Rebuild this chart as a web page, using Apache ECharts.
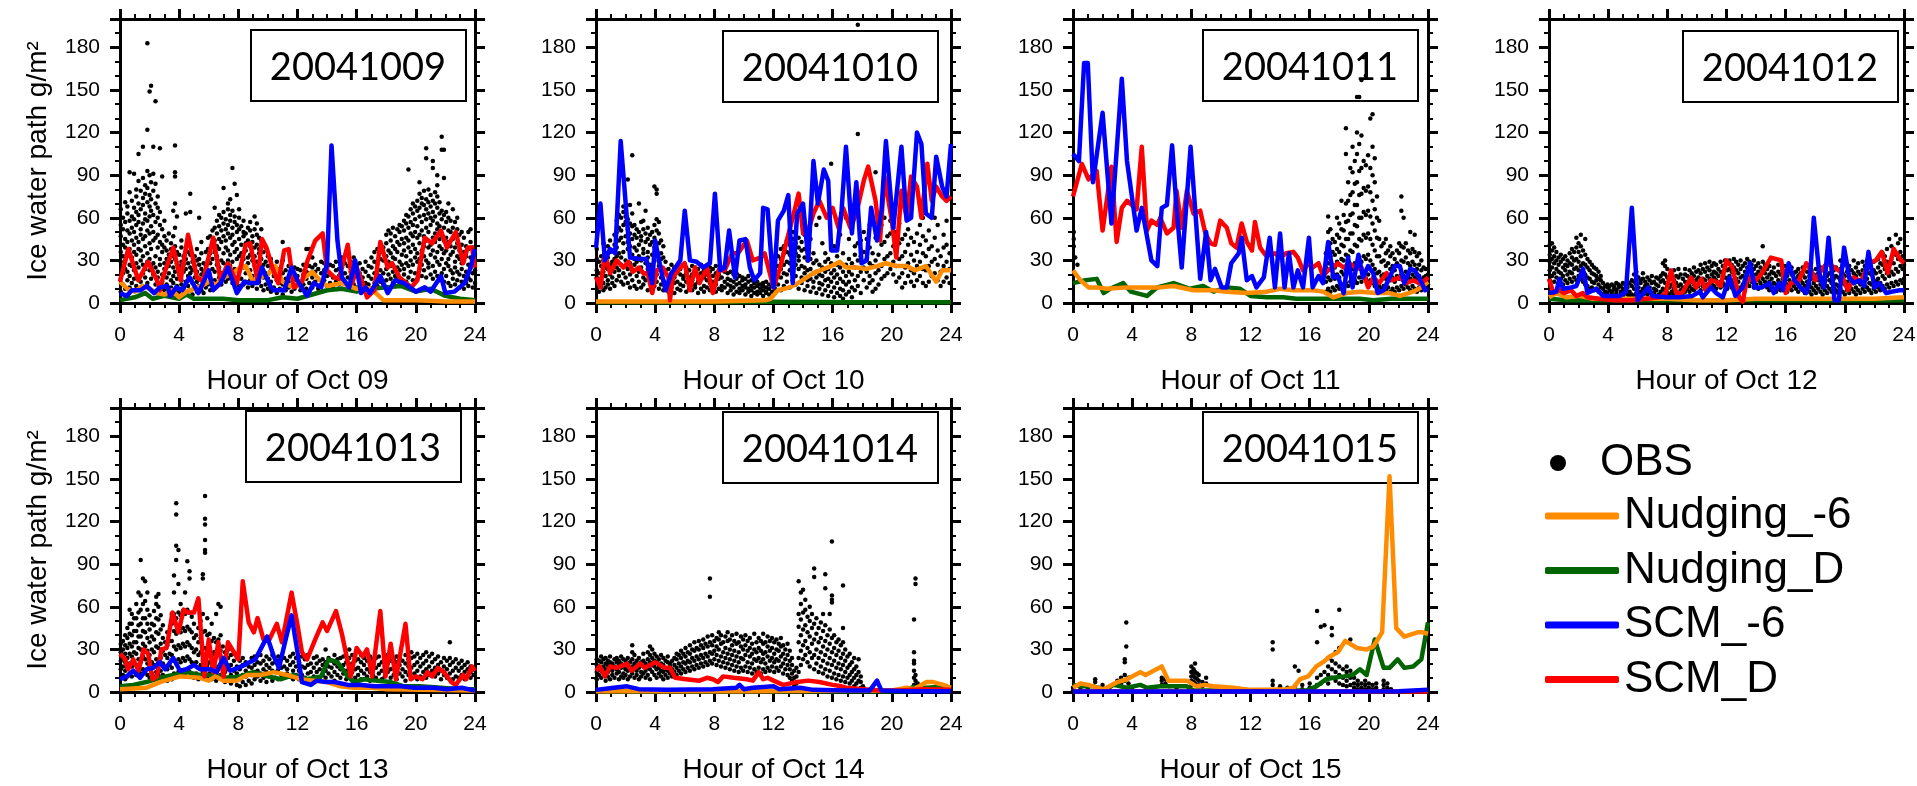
<!DOCTYPE html>
<html>
<head>
<meta charset="utf-8">
<title>Ice water path</title>
<script src="https://cdn.jsdelivr.net/npm/echarts@6/dist/echarts.min.js"></script>
<style>
  html, body { margin: 0; padding: 0; background: #fff; }
  #main { width: 1917px; height: 786px; }
</style>
</head>
<body>
<div id="main"></div>
<script>
// ---- data ----
const days = ['20041009', '20041010', '20041011', '20041012', '20041013', '20041014', '20041015'];
const hourNames = ['Hour of Oct 09', 'Hour of Oct 10', 'Hour of Oct 11', 'Hour of Oct 12',
  'Hour of Oct 13', 'Hour of Oct 14', 'Hour of Oct 15'];
const lineNames = ['Nudging_-6', 'Nudging_D', 'SCM_-6', 'SCM_D'];
const yTitle = 'Ice water path g/m²';

// OBS rows: [hour, value, value, ...]
const obs09 = [
  [0.05, 8, 17, 29, 36, 47, 55, 66], [0.2, 13, 21, 33, 41, 52, 60], [0.35, 10, 24, 30, 39, 45, 57, 71],
  [0.5, 16, 22, 35, 43, 51, 63, 68], [0.65, 11, 19, 27, 38, 49, 58, 78, 92], [0.8, 14, 26, 32, 44, 53, 61, 72],
  [0.95, 17, 23, 36, 41, 50, 59, 67, 91], [1.1, 12, 28, 34, 46, 55, 64, 75, 80],
  [1.25, 19, 25, 38, 43, 57, 62, 70, 86, 105], [1.4, 15, 30, 37, 48, 52, 66, 79],
  [1.55, 21, 27, 33, 45, 56, 69, 74, 88, 110], [1.7, 18, 24, 40, 47, 59, 63, 77, 83],
  [1.85, 14, 29, 35, 51, 58, 71, 81, 93, 122, 183], [2.0, 23, 31, 42, 49, 61, 68, 76, 90, 149],
  [2.1, 17, 26, 38, 54, 65, 73, 85, 153], [2.25, 20, 28, 44, 50, 62, 79, 91, 110],
  [2.4, 13, 25, 33, 46, 57, 70, 84, 142], [2.55, 18, 22, 39, 48, 60, 67, 75], [2.7, 11, 27, 31, 43, 55, 64, 109],
  [2.85, 15, 20, 36, 41, 52, 89], [3.0, 9, 24, 28, 39, 47, 58], [3.15, 13, 18, 31, 37, 44], [3.3, 7, 21, 26, 34, 49],
  [3.45, 11, 16, 29, 38, 42], [3.6, 14, 19, 25, 33, 47, 65], [3.72, 9, 22, 31, 40, 53, 70, 89, 92, 111],
  [3.85, 12, 17, 28, 36, 61], [4.0, 8, 20, 26, 34], [4.15, 13, 16, 29, 39, 44], [4.3, 10, 22, 27, 33],
  [4.45, 7, 15, 24, 31, 63], [4.6, 12, 19, 28, 36, 41], [4.75, 9, 21, 25, 34, 64, 77], [4.9, 6, 14, 23, 29],
  [5.05, 11, 18, 26, 33], [5.2, 8, 15, 22, 30, 38], [5.35, 12, 17, 27, 31, 60], [5.5, 9, 20, 24, 35, 43],
  [5.65, 7, 14, 22, 28], [5.8, 11, 19, 26, 36], [5.95, 13, 21, 30, 38, 46], [6.1, 9, 17, 28, 35, 47],
  [6.25, 14, 24, 31, 42, 51], [6.4, 16, 22, 36, 44, 53, 67], [6.55, 12, 27, 33, 40, 49, 58],
  [6.7, 18, 25, 38, 45, 54, 62], [6.85, 13, 21, 30, 43, 51, 60], [7.0, 19, 28, 35, 47, 56, 64, 81],
  [7.15, 15, 23, 39, 44, 52, 59], [7.3, 17, 30, 37, 49, 55, 66, 70], [7.45, 20, 26, 34, 46, 58, 62, 73],
  [7.6, 14, 29, 41, 48, 53, 65, 95], [7.75, 18, 24, 36, 43, 57, 61, 84], [7.9, 16, 31, 38, 50, 55, 76],
  [8.05, 12, 22, 33, 45, 52, 60, 66], [8.2, 17, 27, 35, 41, 54], [8.35, 13, 25, 31, 47, 50, 58],
  [8.5, 15, 21, 37, 42, 49], [8.65, 11, 28, 32, 44, 53], [8.8, 16, 23, 34, 40, 51, 57], [8.95, 12, 19, 30, 43, 47],
  [9.1, 14, 26, 33, 39, 52, 61], [9.25, 10, 22, 29, 41, 48, 56], [9.4, 15, 20, 35, 38, 46],
  [9.55, 12, 25, 31, 44, 52], [9.7, 9, 18, 27, 36], [9.85, 13, 21, 29, 39], [10.0, 10, 17, 26, 33],
  [10.2, 8, 15, 23, 31], [10.4, 11, 19, 25], [10.6, 7, 16, 22, 29], [10.8, 10, 14, 24], [11.0, 6, 13, 21, 30, 43],
  [11.2, 9, 17, 23], [11.4, 11, 15, 26], [11.6, 8, 18, 22], [11.8, 10, 16, 25], [12.0, 12, 19, 24],
  [12.2, 9, 15, 23], [12.4, 13, 20, 27], [12.6, 10, 17, 22, 38], [12.8, 14, 21, 26, 38],
  [13.0, 11, 18, 25, 32], [13.2, 15, 22, 27], [13.4, 10, 17, 24], [13.6, 13, 21, 29], [13.8, 16, 23, 28],
  [14.0, 12, 19, 25], [14.2, 14, 20, 27], [14.4, 11, 18, 26], [14.6, 15, 23, 29], [14.8, 13, 19, 24],
  [15.0, 10, 17, 25, 32], [15.2, 14, 21, 28], [15.4, 12, 18, 26], [15.6, 16, 22, 29], [15.8, 13, 20, 25, 32],
  [16.0, 11, 19, 26], [16.2, 15, 21, 28], [16.4, 12, 18, 24], [16.6, 14, 22, 29], [16.8, 13, 19, 26],
  [17.0, 10, 17, 25, 32], [17.2, 14, 21, 29, 36], [17.4, 12, 20, 28, 38], [17.6, 15, 23, 31, 40],
  [17.8, 13, 21, 30, 39], [18.0, 16, 24, 33, 42, 48], [18.15, 11, 20, 29, 37, 51], [18.3, 17, 26, 35, 44, 49],
  [18.45, 14, 22, 32, 40, 53], [18.6, 12, 19, 31, 38, 47], [18.75, 18, 25, 36, 43, 52],
  [18.9, 13, 23, 29, 41, 50, 55], [19.05, 16, 27, 34, 45, 54], [19.2, 20, 24, 37, 42, 51, 58],
  [19.35, 15, 28, 33, 46, 56, 62], [19.5, 18, 26, 39, 44, 53, 61, 94], [19.65, 22, 30, 36, 49, 57, 66],
  [19.8, 16, 27, 41, 47, 55, 63, 70], [19.95, 21, 32, 38, 50, 59, 68], [20.1, 17, 29, 35, 46, 54, 65, 72],
  [20.25, 24, 31, 42, 48, 61, 67, 77, 85], [20.4, 19, 27, 37, 51, 57, 70, 74],
  [20.55, 23, 33, 40, 47, 62, 69, 79], [20.7, 18, 30, 44, 53, 59, 66, 73, 102, 109],
  [20.85, 25, 28, 39, 50, 63, 71, 80], [21.0, 20, 34, 41, 55, 60, 68, 76],
  [21.15, 17, 26, 37, 46, 58, 64, 72, 95, 100], [21.3, 22, 32, 43, 49, 61, 70, 78],
  [21.45, 19, 29, 36, 52, 56, 67, 75, 83, 90], [21.6, 16, 27, 40, 45, 54, 63, 71],
  [21.75, 21, 31, 38, 48, 59, 65, 108, 117], [21.9, 15, 24, 35, 44, 53, 62, 88, 108],
  [22.05, 19, 28, 37, 46, 57, 64], [22.2, 14, 26, 31, 43, 51, 60, 70], [22.35, 12, 23, 34, 40, 50, 58],
  [22.5, 17, 21, 36, 45, 53, 66], [22.65, 13, 25, 29, 39, 47, 57], [22.8, 16, 22, 33, 42, 52, 60],
  [22.95, 11, 20, 31, 37, 48], [23.1, 15, 24, 28, 41, 50], [23.25, 10, 19, 30, 36, 46], [23.4, 14, 22, 33, 40],
  [23.55, 12, 18, 27, 38, 50], [23.7, 16, 25, 32, 43, 52], [23.85, 11, 21, 29, 39], [24.0, 14, 23, 34]
];
const obs10 = [
  [0.05, 10, 18, 23, 31, 38], [0.2, 8, 15, 21, 29], [0.35, 12, 17, 26, 33], [0.5, 9, 14, 22, 30, 42],
  [0.65, 11, 19, 25, 34], [0.8, 13, 16, 24, 32, 40], [0.95, 10, 20, 27, 36, 44], [1.1, 14, 18, 29, 37],
  [1.25, 12, 22, 31, 41, 48], [1.4, 16, 25, 33, 39, 50, 58], [1.55, 19, 23, 35, 44, 53, 62],
  [1.7, 15, 27, 32, 46, 51, 60], [1.85, 13, 21, 36, 42, 55, 64, 68], [2.0, 18, 26, 30, 47, 57, 61],
  [2.15, 14, 24, 38, 43, 52, 59, 87], [2.3, 11, 20, 28, 40, 49, 56, 69], [2.45, 16, 23, 34, 45, 54, 63, 104],
  [2.6, 12, 27, 31, 39, 48, 55], [2.75, 10, 19, 29, 37, 46, 52], [2.9, 15, 22, 33, 41, 50, 70],
  [3.05, 11, 25, 30, 44, 47, 57], [3.2, 13, 18, 35, 38, 52, 58], [3.35, 16, 21, 28, 43, 49, 65],
  [3.5, 9, 24, 32, 36, 45, 53], [3.65, 14, 19, 27, 41, 48], [3.8, 8, 17, 25, 34, 43, 50],
  [3.95, 12, 22, 30, 39, 46, 55, 82], [4.1, 15, 20, 33, 37, 51, 59, 77, 80], [4.25, 10, 26, 29, 42, 49, 57],
  [4.4, 13, 18, 31, 35, 44], [4.55, 9, 16, 24, 32, 40], [4.7, 11, 14, 23, 29], [4.9, 8, 13, 19, 24],
  [5.1, 11, 16, 21, 27], [5.3, 7, 14, 18, 25], [5.5, 10, 15, 22, 26], [5.7, 9, 13, 20, 24], [5.9, 12, 17, 19, 27],
  [6.1, 8, 15, 21, 25], [6.3, 10, 14, 18, 23], [6.5, 9, 16, 20, 26], [6.7, 11, 13, 22, 25], [6.9, 7, 15, 19, 24],
  [7.1, 10, 17, 21, 27], [7.3, 8, 12, 18, 23], [7.5, 11, 16, 20, 26], [7.7, 9, 14, 22, 25], [7.9, 12, 15, 19, 24],
  [8.1, 8, 13, 21, 26], [8.3, 10, 17, 20, 23], [8.5, 9, 12, 18, 25], [8.7, 11, 15, 22, 24], [8.9, 7, 13, 17, 21],
  [9.1, 9, 12, 16, 22], [9.3, 6, 11, 15, 20], [9.5, 8, 13, 17, 21], [9.7, 7, 10, 14, 19], [9.9, 9, 12, 16, 18],
  [10.1, 6, 11, 13, 17], [10.3, 8, 10, 15, 19], [10.5, 5, 9, 12, 16], [10.7, 7, 11, 14, 17], [10.9, 6, 8, 12, 15],
  [11.1, 7, 10, 13], [11.3, 5, 9, 12, 14], [11.5, 7, 8, 11, 15], [11.7, 6, 10, 13], [11.9, 8, 12, 18, 25],
  [12.1, 10, 16, 23, 30], [12.3, 13, 19, 26, 33], [12.5, 9, 18, 24, 31, 38], [12.7, 12, 21, 27, 35, 40],
  [12.9, 15, 20, 29, 36, 44], [13.1, 11, 23, 28, 34, 41, 48], [13.3, 16, 22, 31, 37, 45, 50],
  [13.5, 13, 19, 27, 35, 42], [13.7, 10, 24, 30, 33, 39, 46], [13.9, 14, 18, 26, 37, 43],
  [14.1, 9, 21, 25, 32, 38, 48], [14.3, 12, 16, 23, 30, 36], [14.5, 8, 17, 24, 31, 45], [14.7, 11, 15, 21, 28, 35],
  [14.9, 7, 18, 22, 30, 55], [15.1, 10, 14, 20, 27, 60], [15.3, 6, 13, 19, 25, 42], [15.5, 9, 16, 22, 29, 35],
  [15.7, 5, 12, 17, 24, 31], [15.9, 8, 15, 21, 28, 98], [16.1, 4, 11, 18, 23, 40], [16.3, 7, 14, 20, 27, 33],
  [16.5, 5, 10, 17, 25, 48], [16.7, 3, 9, 15, 22, 35], [16.9, 6, 13, 19, 27, 60], [17.1, 8, 15, 22, 31, 45],
  [17.3, 4, 11, 20, 28], [17.5, 9, 16, 25, 34, 40], [17.7, 12, 19, 30, 42, 119, 196], [17.9, 7, 22, 33, 44],
  [18.1, 16, 25, 36, 50], [18.3, 11, 22, 31, 45], [18.5, 14, 19, 28, 39, 55], [18.7, 8, 16, 26, 35],
  [18.9, 10, 21, 30, 46, 92], [19.1, 13, 23, 34, 51], [19.3, 17, 26, 41, 55], [19.5, 19, 31, 43, 60],
  [19.7, 21, 33, 47], [19.9, 24, 35, 49, 58], [20.1, 20, 29, 40, 53], [20.3, 15, 26, 37, 50],
  [20.5, 18, 31, 42, 56], [20.7, 11, 21, 33, 45], [20.9, 14, 25, 36, 48], [21.1, 19, 28, 41, 52],
  [21.3, 15, 23, 34, 46], [21.5, 12, 21, 30, 43], [21.7, 16, 26, 36, 49], [21.9, 19, 29, 41, 55],
  [22.1, 14, 24, 35, 47, 60], [22.3, 12, 23, 33, 44], [22.5, 15, 26, 38, 51], [22.7, 19, 29, 40],
  [22.9, 21, 31, 46, 60], [23.1, 16, 27, 37, 55], [23.3, 12, 22, 33], [23.5, 15, 26, 39, 48],
  [23.7, 18, 29, 41, 58], [23.9, 14, 24, 35]
];
const obs11 = [
  [0.05, 40, 50, 45], [0.15, 32], [0.3, 27], [17.1, 8, 15, 25, 35], [17.25, 10, 18, 28, 40, 50, 61],
  [17.4, 8, 16, 24, 33, 42, 52], [17.55, 11, 19, 27, 36, 45], [17.7, 9, 17, 25, 34, 43],
  [17.85, 12, 20, 29, 38, 48, 60], [18.0, 10, 18, 27, 36, 46, 56], [18.15, 13, 22, 31, 41, 52, 72],
  [18.3, 11, 20, 30, 40, 51, 62], [18.45, 14, 24, 34, 45, 57, 70, 105, 123], [18.6, 12, 22, 33, 45, 58, 72, 85],
  [18.75, 15, 26, 37, 49, 62, 76, 95], [18.9, 13, 24, 36, 49, 63, 78, 92, 110],
  [19.05, 16, 28, 41, 55, 69, 84, 100], [19.2, 14, 27, 40, 54, 69, 85, 105, 120, 145],
  [19.35, 18, 31, 45, 60, 76, 93, 112, 145], [19.5, 15, 29, 44, 60, 77, 95, 118, 157],
  [19.65, 19, 33, 48, 64, 81, 100, 173], [19.8, 17, 31, 46, 62, 79, 97, 160], [19.95, 20, 34, 49, 65, 82, 104],
  [20.1, 16, 30, 45, 61, 78, 95, 130], [20.25, 14, 27, 41, 56, 72, 90, 110, 133], [20.4, 12, 24, 37, 51, 66, 85, 102],
  [20.55, 10, 21, 33, 46, 60, 75], [20.7, 12, 22, 33, 45, 58], [20.85, 10, 19, 29, 40], [21.0, 12, 20, 30, 42],
  [21.15, 9, 17, 26, 35, 45], [21.3, 11, 19, 28, 37], [21.45, 8, 16, 24, 33, 40], [21.6, 10, 18, 26, 35],
  [21.75, 8, 15, 23, 31], [21.9, 11, 19, 28, 37], [22.05, 9, 17, 26, 35, 42], [22.2, 12, 20, 30, 40, 65, 75],
  [22.35, 10, 19, 29, 39, 60], [22.5, 13, 22, 32, 42], [22.65, 11, 19, 28, 37], [22.8, 9, 17, 26, 35, 50],
  [22.95, 12, 20, 29, 38], [23.1, 10, 18, 27, 36, 48], [23.25, 8, 16, 24, 33], [23.4, 11, 19, 27, 35],
  [23.55, 9, 16, 23, 30], [23.7, 11, 18, 25], [23.85, 12, 19, 24], [24.0, 13, 20]
];
const obs12 = [
  [0.05, 16, 23, 29, 34, 41], [0.2, 19, 25, 31, 37, 42], [0.35, 15, 21, 28, 33, 39], [0.5, 18, 24, 30, 36],
  [0.65, 14, 22, 27, 32], [0.8, 17, 21, 29, 34], [0.95, 13, 19, 25, 31], [1.1, 16, 23, 27, 33],
  [1.25, 14, 20, 26, 30], [1.4, 17, 22, 28, 35], [1.55, 15, 21, 27, 32, 38], [1.7, 18, 24, 30, 36],
  [1.85, 16, 25, 31, 39, 46], [2.0, 19, 23, 29, 36, 42], [2.15, 17, 26, 33, 40, 48], [2.3, 15, 22, 28, 37],
  [2.45, 13, 20, 27, 34, 45], [2.6, 12, 18, 25, 31], [2.75, 10, 17, 23, 29], [2.9, 11, 15, 21, 27],
  [3.05, 9, 14, 20, 25], [3.2, 10, 16, 19, 24], [3.35, 8, 13, 17, 22], [3.5, 7, 11, 16, 19], [3.65, 6, 10, 14],
  [3.8, 5, 8, 12], [3.95, 7, 11, 13], [4.1, 5, 9, 12], [4.25, 6, 8, 13], [4.4, 5, 10, 12], [4.55, 7, 9, 14],
  [4.7, 5, 11, 13], [4.85, 6, 8, 12], [5.0, 5, 10, 14], [5.15, 7, 9, 13], [5.3, 6, 11, 12], [5.45, 5, 8, 14],
  [5.6, 6, 12, 16], [5.75, 5, 10, 15, 20], [5.9, 7, 13, 17, 22], [6.05, 6, 11, 18], [6.2, 8, 14, 16],
  [6.35, 6, 10, 17, 21], [6.5, 7, 12, 15], [6.65, 6, 13, 18], [6.8, 8, 11, 16], [6.95, 6, 14, 19],
  [7.1, 7, 10, 15], [7.25, 9, 13, 18], [7.4, 6, 12, 17], [7.55, 8, 15, 19], [7.7, 10, 16, 21, 28],
  [7.85, 9, 14, 20, 26, 30], [8.0, 7, 12, 18, 24], [8.15, 6, 11, 17], [8.3, 8, 13, 19], [8.45, 6, 10, 16, 23],
  [8.6, 8, 14, 19], [8.75, 6, 12, 18, 24], [8.9, 9, 13, 20], [9.05, 7, 11, 17], [9.2, 8, 15, 20, 24],
  [9.35, 10, 14, 19], [9.5, 8, 12, 18, 23], [9.65, 10, 15, 21], [9.8, 9, 13, 19, 25], [9.95, 11, 16, 22],
  [10.1, 12, 18, 23], [10.25, 9, 15, 21, 27], [10.4, 12, 17, 24], [10.55, 10, 16, 22, 28], [10.7, 13, 19, 25],
  [10.85, 11, 17, 23, 29], [11.0, 14, 20, 26], [11.15, 12, 18, 22, 28], [11.3, 10, 16, 21, 27],
  [11.45, 13, 19, 24], [11.6, 11, 15, 22, 29], [11.75, 14, 20, 26], [11.9, 12, 18, 25, 30],
  [12.05, 10, 17, 23, 28], [12.2, 13, 19, 24, 30], [12.35, 11, 16, 22, 27], [12.5, 14, 20, 25, 31],
  [12.65, 12, 17, 23, 29], [12.8, 15, 21, 27], [12.95, 11, 18, 24, 30], [13.1, 13, 19, 26],
  [13.25, 10, 16, 22, 28], [13.4, 14, 20, 25, 31], [13.55, 12, 18, 23, 29], [13.7, 15, 21, 27],
  [13.85, 11, 17, 24, 30], [14.0, 13, 20, 26], [14.15, 10, 16, 22, 28], [14.3, 14, 19, 25],
  [14.45, 12, 17, 23, 29, 40], [14.6, 15, 21, 27], [14.75, 11, 18, 24], [14.9, 9, 15, 20, 26],
  [15.05, 12, 17, 22], [15.2, 10, 14, 21, 25], [15.35, 8, 13, 19], [15.5, 11, 16, 22, 27], [15.65, 9, 14, 20],
  [15.8, 12, 17, 23], [15.95, 10, 15, 21, 26], [16.1, 8, 13, 19], [16.25, 11, 16, 22], [16.4, 9, 14, 20, 25],
  [16.55, 12, 15, 21], [16.7, 10, 17, 22], [16.85, 8, 13, 19, 24], [17.0, 11, 16, 21], [17.15, 9, 14, 20, 25],
  [17.3, 7, 12, 18], [17.45, 10, 15, 22], [17.6, 8, 13, 19], [17.75, 6, 11, 17, 23], [17.9, 9, 14, 20],
  [18.05, 7, 12, 18, 24], [18.2, 10, 16, 21], [18.35, 8, 13, 19, 25], [18.5, 6, 11, 17], [18.65, 9, 15, 22, 26],
  [18.8, 7, 12, 19], [18.95, 10, 16, 21, 27], [19.1, 8, 14, 20], [19.25, 11, 17, 23], [19.4, 9, 13, 19, 25],
  [19.55, 7, 12, 18], [19.7, 10, 16, 24, 30], [19.85, 8, 14, 21, 26], [20.0, 6, 13, 19, 28], [20.15, 9, 15, 22],
  [20.3, 7, 12, 18, 26], [20.45, 10, 17, 23], [20.6, 8, 14, 21, 30], [20.75, 6, 11, 19, 25], [20.9, 9, 15, 22, 28],
  [21.05, 7, 13, 20], [21.2, 10, 16, 23, 29], [21.35, 8, 12, 19, 26], [21.5, 11, 17, 24, 30], [21.65, 9, 14, 21, 27],
  [21.8, 7, 13, 20], [21.95, 10, 16, 23, 29], [22.1, 8, 15, 21], [22.25, 11, 17, 25, 31], [22.4, 9, 14, 22, 28],
  [22.55, 12, 19, 27, 35], [22.7, 10, 17, 24, 33], [22.85, 13, 21, 29, 38], [23.0, 11, 19, 27, 45],
  [23.15, 14, 22, 31, 40], [23.3, 12, 20, 28, 36], [23.45, 15, 24, 34, 48], [23.6, 13, 22, 31, 42],
  [23.75, 16, 26, 36, 45], [23.9, 14, 24, 33], [24.0, 17, 27]
];
const obs13 = [
  [0.05, 10, 16, 22, 28, 34], [0.2, 12, 18, 24, 30, 36], [0.35, 9, 15, 21, 27, 33, 40], [0.5, 11, 17, 24, 31, 38, 45],
  [0.65, 13, 20, 27, 34, 41, 48, 58], [0.8, 11, 18, 25, 32, 40, 48, 55], [0.95, 14, 21, 28, 35, 43, 52],
  [1.1, 12, 19, 27, 35, 43, 52, 62], [1.25, 15, 23, 31, 39, 47, 56, 70], [1.4, 13, 21, 30, 39, 48, 58, 68, 93],
  [1.55, 16, 25, 34, 43, 52, 62, 80], [1.7, 14, 23, 32, 42, 52, 64, 78], [1.85, 12, 20, 29, 38, 48, 58, 70],
  [2.0, 10, 18, 26, 35, 44, 54], [2.15, 13, 21, 30, 39, 48], [2.3, 11, 19, 28, 37, 47, 57],
  [2.45, 14, 23, 32, 42, 52, 62, 67], [2.6, 12, 21, 31, 41, 51, 60, 69], [2.75, 15, 24, 34, 44, 54],
  [2.9, 12, 20, 29, 38, 47], [3.05, 10, 18, 26, 35], [3.2, 8, 16, 24, 33, 42], [3.35, 11, 19, 27, 36],
  [3.5, 9, 17, 26, 36, 48, 55], [3.65, 13, 22, 32, 43, 55, 70, 82], [3.8, 11, 20, 30, 41, 52, 93, 103, 125, 133],
  [3.95, 14, 23, 33, 44, 56, 76, 100], [4.1, 12, 21, 31, 42, 54, 62], [4.25, 15, 24, 34, 45, 57],
  [4.4, 13, 22, 32, 43, 55, 70], [4.55, 16, 25, 35, 46, 58, 92], [4.7, 14, 23, 33, 44, 56, 80, 85],
  [4.85, 12, 21, 31, 42, 53], [5.0, 10, 19, 28, 38, 48], [5.15, 13, 21, 30, 40], [5.3, 9, 17, 26, 35, 45],
  [5.45, 11, 19, 28, 38, 50], [5.6, 14, 22, 31, 42, 55, 80, 83], [5.75, 12, 21, 31, 43, 98, 100, 107, 118, 122, 138],
  [5.9, 10, 19, 29, 40, 52], [6.05, 13, 21, 30, 41], [6.2, 9, 17, 26, 36, 48], [6.35, 11, 19, 28, 38],
  [6.5, 8, 16, 25, 35, 55], [6.65, 10, 18, 27, 37, 62], [6.8, 12, 20, 29, 40, 60], [6.95, 9, 16, 24, 32],
  [7.1, 7, 14, 21, 28], [7.3, 10, 16, 24, 30], [7.5, 6, 12, 19, 26], [7.7, 9, 15, 22, 27], [7.9, 5, 13, 18, 25],
  [8.1, 4, 10, 16, 22], [8.3, 7, 12, 19, 24], [8.5, 5, 11, 15, 21], [8.7, 8, 13, 18], [8.9, 6, 12, 17, 24],
  [9.1, 9, 14, 19, 25], [9.3, 11, 15, 21], [9.5, 8, 13, 20, 26], [9.7, 10, 16, 22], [9.9, 7, 14, 19, 25],
  [10.1, 11, 17, 23], [10.3, 8, 15, 20, 26], [10.5, 10, 14, 21], [10.7, 9, 16, 22, 25], [10.9, 12, 17, 23],
  [11.1, 10, 18, 24], [11.3, 13, 16, 22], [11.5, 11, 19, 25], [11.7, 9, 15, 21, 27], [11.9, 12, 18, 24],
  [12.1, 9, 15, 21], [12.3, 12, 18, 25], [12.5, 10, 17, 23], [12.7, 13, 19, 26], [12.9, 8, 14, 20],
  [13.1, 11, 17, 24], [13.3, 14, 20, 25], [13.5, 9, 16, 22], [13.7, 12, 19, 23], [13.9, 10, 15, 21, 30],
  [14.1, 13, 18, 24], [14.3, 11, 17, 22], [14.5, 8, 14, 20, 26], [14.7, 12, 18, 23], [14.9, 10, 16, 24],
  [15.1, 13, 19, 25], [15.3, 9, 15, 21], [15.5, 11, 18, 24, 30], [15.7, 14, 20, 26], [15.9, 10, 16, 22],
  [16.1, 12, 17, 23], [16.3, 9, 15, 21, 26], [16.5, 13, 19, 24], [16.7, 11, 16, 22], [16.9, 8, 14, 20, 25],
  [17.1, 12, 18, 23], [17.3, 10, 17, 24], [17.5, 13, 19, 25], [17.7, 9, 15, 21], [17.9, 11, 18, 24],
  [18.1, 14, 20, 26], [18.3, 10, 16, 22], [18.5, 12, 17, 23], [18.7, 9, 15, 21, 25], [18.9, 13, 19, 24],
  [19.1, 11, 16, 22], [19.3, 8, 14, 20, 26], [19.5, 12, 18, 23], [19.7, 10, 17, 24, 28], [19.9, 13, 19, 25],
  [20.1, 9, 15, 21, 27], [20.3, 11, 18, 24], [20.5, 14, 20, 26], [20.7, 10, 16, 22, 28], [20.9, 12, 18, 25],
  [21.1, 15, 21, 27], [21.3, 11, 17, 23], [21.5, 13, 19, 25], [21.7, 9, 15, 21], [21.9, 12, 18, 24],
  [22.1, 10, 16, 22], [22.3, 13, 19, 24, 35], [22.5, 9, 15, 21], [22.7, 11, 17, 23], [22.9, 10, 15, 20],
  [23.1, 12, 17, 22], [23.3, 9, 14, 19], [23.5, 11, 16, 21], [23.7, 10, 14, 18], [23.9, 12, 16]
];
const obs14 = [
  [0.05, 9, 14, 19, 23], [0.2, 12, 17, 22], [0.35, 10, 15, 21, 25], [0.5, 13, 18, 23], [0.65, 8, 16, 20, 24],
  [0.8, 11, 14, 19, 22], [0.95, 9, 17, 21, 25], [1.1, 12, 15, 20], [1.25, 10, 18, 23], [1.4, 13, 16, 21, 24],
  [1.55, 9, 14, 19, 22], [1.7, 11, 17, 20, 25], [1.85, 10, 13, 18, 23], [2.0, 12, 16, 22], [2.15, 9, 15, 19, 24],
  [2.3, 11, 17, 21], [2.45, 13, 18, 23, 28, 33], [2.6, 10, 16, 20, 26], [2.75, 12, 15, 22], [2.9, 9, 17, 19, 24],
  [3.05, 11, 14, 21], [3.2, 13, 18, 22, 27], [3.35, 10, 15, 20], [3.5, 12, 17, 23, 28], [3.65, 9, 16, 21, 26, 32],
  [3.8, 14, 19, 24, 30], [3.95, 12, 18, 22, 27], [4.1, 10, 16, 21, 25], [4.25, 13, 17, 23], [4.4, 11, 15, 20, 26],
  [4.55, 9, 14, 19, 24], [4.7, 12, 16, 22], [4.85, 10, 15, 21, 25], [5.0, 13, 18, 20], [5.15, 11, 16, 22],
  [5.3, 14, 19, 24], [5.45, 12, 17, 23, 27], [5.6, 15, 20, 26], [5.75, 13, 18, 24, 29], [5.9, 16, 21, 27],
  [6.05, 14, 20, 25, 31], [6.2, 17, 22, 28], [6.35, 15, 21, 27, 33], [6.5, 18, 24, 30], [6.65, 16, 22, 29, 35],
  [6.8, 19, 25, 31], [6.95, 17, 23, 30, 36], [7.1, 20, 26, 33], [7.25, 18, 24, 31, 37], [7.4, 21, 27, 34],
  [7.55, 19, 25, 32, 39], [7.7, 22, 28, 35, 67, 80], [7.85, 20, 27, 33, 40], [8.0, 23, 29, 36],
  [8.15, 19, 26, 32, 38], [8.3, 22, 30, 37, 42], [8.45, 18, 25, 34, 40], [8.6, 21, 28, 35], [8.75, 17, 24, 31, 39],
  [8.9, 20, 27, 36, 42], [9.05, 16, 23, 30, 37], [9.2, 19, 26, 33, 40], [9.35, 15, 22, 29, 36],
  [9.5, 18, 25, 34, 41], [9.65, 14, 21, 28, 35], [9.8, 17, 24, 32, 39], [9.95, 15, 23, 30, 37],
  [10.1, 18, 26, 33, 40], [10.25, 14, 21, 29, 36], [10.4, 17, 25, 31, 38], [10.55, 13, 20, 27, 34],
  [10.7, 16, 23, 30, 41], [10.85, 14, 22, 28, 35], [11.0, 17, 24, 31, 38], [11.15, 13, 21, 29, 36],
  [11.3, 16, 23, 27, 34, 41], [11.45, 14, 20, 28, 35], [11.6, 17, 25, 32, 39], [11.75, 15, 22, 29, 36],
  [11.9, 18, 24, 31, 38], [12.05, 14, 21, 27, 35], [12.2, 17, 23, 30, 37], [12.35, 15, 22, 29, 34],
  [12.5, 18, 25, 32, 38], [12.65, 13, 20, 27, 33], [12.8, 16, 23, 30], [12.95, 12, 19, 26, 34],
  [13.1, 10, 16, 22, 29], [13.25, 8, 13, 19, 24], [13.4, 5, 10, 15], [13.55, 6, 11, 17],
  [13.7, 14, 24, 35, 46, 55, 78], [13.85, 19, 29, 40, 51, 62, 70], [14.0, 23, 33, 44, 56, 72],
  [14.15, 26, 36, 47, 58, 65], [14.3, 21, 31, 42, 53], [14.45, 18, 28, 39, 50, 60], [14.6, 24, 34, 45, 55],
  [14.75, 16, 26, 37, 48, 81, 87], [14.9, 20, 30, 41, 52], [15.05, 14, 24, 35, 45], [15.2, 18, 28, 38, 49],
  [15.35, 13, 22, 32, 43, 55], [15.5, 16, 26, 36, 47, 73, 83], [15.65, 11, 20, 30, 40], [15.8, 15, 24, 34, 44, 55],
  [15.95, 10, 19, 28, 38, 63, 65, 68, 106], [16.1, 13, 22, 31, 40], [16.25, 9, 17, 26, 35], [16.4, 12, 20, 29, 37],
  [16.55, 8, 16, 24, 33], [16.7, 11, 19, 27, 35, 45, 75], [16.85, 7, 14, 22, 30], [17.0, 10, 17, 25],
  [17.15, 6, 12, 19, 27], [17.3, 8, 14, 21], [17.45, 4, 10, 16, 24], [17.6, 6, 12, 18], [17.75, 2, 8, 14, 23],
  [17.9, 3, 7, 11], [18.05, 1, 4], [21.5, 5, 10, 15, 20, 22, 28, 51], [21.6, 3, 8, 12, 76, 80], [21.75, 3, 6]
];
const obs15 = [
  [0, 1, 3], [0.5, 2], [1, 3, 1], [1.5, 7, 9], [1.75, 3], [2, 5, 2], [2.5, 1], [3, 5, 8], [3.25, 6, 10],
  [3.5, 8, 12, 21, 23], [3.6, 32, 49], [3.75, 10, 6], [4, 3], [5, 2], [6, 5, 8, 10], [6.25, 6, 9], [6.5, 4],
  [7, 3], [8, 5, 8, 11, 14, 18], [8.15, 7, 12, 16], [8.25, 6, 10, 14, 20], [8.4, 4, 9, 13], [8.5, 5, 8, 12],
  [8.75, 4, 7], [9, 6, 10], [13.5, 5, 8, 30, 35], [14, 2, 4], [14.5, 3], [15, 4, 18], [15.25, 15], [15.5, 2, 5],
  [16, 3, 6], [16.5, 5, 10, 35, 57], [16.75, 6, 12, 46], [17, 8, 14, 47], [17.25, 6, 12, 18, 24],
  [17.5, 10, 16, 22, 40, 45], [17.75, 8, 14, 20, 28], [18, 6, 12, 18, 30, 31, 58], [18.25, 5, 10, 16],
  [18.5, 4, 8, 14, 18], [18.75, 5, 10, 15, 37], [19, 3, 6, 10], [19.25, 2, 5, 8], [19.5, 3, 6], [19.75, 2, 5, 8],
  [20, 3, 6], [20.25, 2, 5], [20.5, 3, 6], [21, 2, 5, 8], [21.25, 3, 6], [21.5, 2]
];

// model lines: [hour, value]
const nud6_09 = [[0, 15], [0.5, 10], [1, 8], [1.5, 12], [2, 10], [2.5, 7], [3, 6], [3.5, 9], [4, 4], [4.5, 8], [5, 10], [5.5, 12], [6, 15], [6.5, 13], [7, 18], [7.5, 20], [8, 24], [8.5, 26], [9, 15], [9.5, 18], [10, 20], [10.5, 26], [11, 15], [11.5, 12], [12, 12], [12.5, 18], [13, 22], [13.5, 16], [14, 12], [14.5, 13], [15, 14], [15.5, 12], [16, 10], [16.5, 11], [17, 10], [17.8, 2], [19, 2], [20, 2], [21, 1.5], [22, 1], [24, 1]];
const nudD_09 = [[0, 2], [1, 4], [1.7, 7], [2.2, 3], [3, 5], [4, 3], [4.5, 6], [5, 3], [6, 3], [7, 3], [8, 2], [10, 2], [11, 4], [12, 3], [13, 6], [14, 9], [15, 10], [16, 8], [17, 10], [18, 11], [19, 12], [20, 8], [21, 10], [22, 5], [23, 3], [24, 2]];
const scm6_09 = [[0, 7], [0.45, 5], [0.8, 9], [1.4, 9], [1.8, 12], [2.3, 7], [2.7, 11], [3.2, 12], [3.4, 5], [3.8, 11], [4.2, 9], [4.7, 18], [5.3, 7], [6, 23], [6.3, 9], [6.8, 14], [7.3, 25], [7.9, 7], [8.4, 15], [8.8, 14], [9.3, 14], [9.6, 25], [10.2, 11], [10.4, 9], [11.1, 9], [11.6, 25], [12.1, 14], [12.65, 5], [13.1, 14], [13.6, 11], [14, 28], [14.3, 111], [14.7, 44], [15, 18], [15.5, 11], [15.9, 30], [16.3, 7], [16.6, 11], [16.9, 7], [17.6, 19], [18.1, 7], [18.6, 16], [19.2, 14], [20, 8], [20.6, 11], [21, 8], [21.7, 19], [22, 7], [22.6, 8], [23.3, 14], [23.7, 25], [24, 38]];
const scmD_09 = [[0, 15], [0.56, 38], [1.24, 16], [1.9, 29], [2.5, 16], [2.7, 9], [2.9, 18], [3.6, 39], [4.1, 16], [4.6, 48], [5.2, 18], [5.6, 15], [6.3, 46], [6.8, 16], [7.3, 28], [7.9, 14], [8.5, 41], [8.8, 42], [9.3, 16], [9.6, 45], [9.9, 39], [10.3, 25], [10.7, 14], [11.1, 37], [11.4, 38], [11.75, 11], [12.3, 15], [12.65, 29], [13.2, 44], [13.7, 49], [14, 23], [14.5, 18], [14.8, 17], [15.4, 41], [15.7, 14], [16, 25], [16.4, 14], [16.7, 4], [17.2, 9], [17.6, 43], [18.1, 25], [18.4, 28], [18.9, 18], [19.7, 11], [20.1, 16], [20.6, 46], [21.1, 42], [21.7, 51], [22.1, 39], [22.7, 50], [23.2, 28], [23.5, 39], [23.8, 39], [24, 25]];

const nud6_10 = [[0, 1], [4, 1], [8, 1], [10, 1.5], [11.5, 2], [11.8, 3], [12.3, 9], [13.1, 11], [13.8, 15], [14.7, 21], [15.4, 24], [15.9, 26], [16.5, 29], [16.9, 25], [17.6, 25], [18.3, 24], [19, 26], [19.6, 28], [20.3, 26], [21, 26], [21.55, 23], [22.3, 26], [23, 15], [23.4, 23], [24, 23]];
const nudD_10 = [[0, 0.5], [6, 0.5], [12, 0.8], [18, 0.5], [24, 0.5]];
const scm6_10 = [[0, 39], [0.3, 70], [0.6, 30], [0.95, 38], [1.3, 35], [1.67, 114], [2.3, 32], [2.9, 31], [3.4, 31], [3.8, 14], [4, 44], [4.4, 23], [4.7, 9], [5.1, 21], [5.7, 30], [6, 65], [6.35, 30], [6.8, 29], [7.25, 25], [7.7, 28], [8.04, 77], [8.4, 23], [8.7, 25], [9, 51], [9.4, 18], [9.7, 44], [10.1, 45], [10.4, 25], [10.7, 16], [11.1, 21], [11.3, 67], [11.6, 66], [12, 11], [12.3, 58], [12.7, 65], [13, 76], [13.3, 14], [13.6, 63], [14, 70], [14.35, 30], [14.7, 100], [15, 70], [15.4, 94], [15.7, 86], [15.9, 37], [16.3, 37], [16.6, 65], [16.9, 110], [17.3, 49], [17.6, 85], [17.95, 28], [18.3, 30], [18.6, 67], [19, 44], [19.3, 65], [19.6, 114], [20.1, 53], [20.65, 110], [21, 58], [21.3, 60], [21.7, 120], [22, 112], [22.3, 63], [22.7, 60], [23, 103], [23.4, 82], [23.7, 75], [24, 112]];
const scmD_10 = [[0, 18], [0.3, 11], [0.6, 35], [0.95, 21], [1.4, 30], [1.85, 25], [2.2, 29], [2.5, 22], [2.9, 25], [3.2, 21], [3.5, 21], [3.8, 7], [4.1, 23], [4.5, 25], [4.9, 18], [5, 2], [5.2, 18], [5.7, 25], [6, 28], [6.35, 9], [6.7, 25], [7, 14], [7.5, 25], [7.9, 7], [8.3, 23], [8.7, 23], [9.2, 35], [9.6, 35], [10.2, 44], [10.6, 30], [11.1, 32], [11.4, 35], [12, 11], [12.4, 23], [12.9, 44], [13.3, 60], [13.7, 77], [14, 49], [14.35, 51], [14.7, 63], [15.1, 72], [15.6, 60], [16, 67], [16.4, 53], [16.7, 67], [17.2, 53], [17.6, 63], [18.1, 86], [18.4, 96], [18.9, 72], [19.2, 44], [19.5, 89], [20, 58], [20.3, 32], [20.65, 79], [21, 60], [21.3, 89], [21.7, 82], [22, 60], [22.4, 98], [22.7, 72], [23, 82], [23.4, 75], [23.7, 72], [24, 75]];

const nud6_11 = [[0, 23], [0.5, 16], [1.05, 11], [1.6, 11], [2.3, 10], [3.65, 11], [5, 11], [5.9, 11], [6.8, 12], [8.15, 9], [9.5, 9], [10.4, 8], [11.75, 7], [13.1, 8], [14, 10], [14.9, 9], [16.2, 9], [16.9, 8], [17.6, 4], [18.5, 7], [19.4, 8], [20.5, 7], [21.4, 7], [22.1, 5], [23, 8], [23.55, 11], [24, 15]];
const nudD_11 = [[0, 14], [0.85, 16], [1.6, 17], [2.07, 7], [2.5, 10], [3.4, 14], [3.9, 8], [5, 5], [5.7, 11], [6.8, 14], [7.9, 10], [8.8, 12], [9.5, 8], [10.4, 11], [11.3, 10], [12, 5], [13.1, 4], [14.2, 4], [15.1, 3], [17.1, 3], [19.4, 3], [20.3, 2], [21.5, 3], [24, 3]];
const scm6_11 = [[0, 105], [0.4, 100], [0.75, 169], [1, 169], [1.35, 85], [2, 134], [2.6, 56], [3.3, 158], [3.65, 100], [4.3, 51], [4.65, 67], [5.3, 30], [5.7, 26], [6, 67], [6.35, 69], [6.7, 111], [7, 67], [7.35, 25], [7.95, 110], [8.6, 17], [9, 50], [9.3, 16], [9.6, 24], [10.05, 11], [10.4, 11], [10.7, 28], [11.2, 35], [11.4, 46], [11.75, 16], [12.1, 19], [12.4, 11], [12.9, 18], [13.3, 46], [13.65, 11], [14, 49], [14.3, 11], [14.6, 35], [14.9, 11], [15.2, 23], [15.55, 11], [15.95, 46], [16.2, 11], [16.6, 19], [16.9, 14], [17.25, 43], [17.6, 18], [17.9, 19], [18.3, 7], [18.6, 32], [18.9, 11], [19.3, 34], [19.6, 18], [19.95, 26], [20.3, 21], [20.6, 7], [21, 9], [21.4, 18], [21.75, 26], [22.1, 26], [22.4, 14], [22.8, 24], [23.1, 23], [23.4, 18], [23.8, 9], [24, 10]];
const scmD_11 = [[0, 75], [0.6, 98], [1.05, 87], [1.6, 93], [2, 51], [2.6, 96], [2.95, 43], [3.3, 67], [3.65, 72], [4.3, 66], [4.65, 110], [5, 51], [5.3, 58], [5.7, 55], [5.9, 60], [6.35, 49], [6.8, 53], [7, 79], [7.35, 53], [7.7, 79], [8.15, 63], [8.6, 65], [8.95, 49], [9.3, 42], [9.6, 41], [9.95, 58], [10.4, 53], [10.7, 42], [11.05, 39], [11.4, 56], [11.75, 43], [12.1, 37], [12.3, 57], [12.65, 39], [13, 34], [13.3, 34], [13.65, 35], [14, 32], [14.4, 35], [14.9, 36], [15.2, 32], [15.55, 23], [15.95, 28], [16.2, 25], [16.6, 28], [16.9, 19], [17.25, 23], [17.6, 25], [17.9, 28], [18.3, 25], [18.7, 28], [19.2, 24], [19.5, 25], [19.95, 11], [20.3, 18], [20.7, 14], [21.2, 21], [21.6, 16], [22.1, 18], [22.5, 14], [23, 16], [23.4, 14], [23.8, 16], [24, 18]];

const nud6_12 = [[0, 4], [0.5, 7], [1.2, 4], [2, 5], [3, 3], [5, 3], [6.6, 3], [8, 3], [10, 2], [12, 2], [14, 3], [16, 3], [18, 3], [20, 3], [22, 3], [24, 4]];
const nudD_12 = [[0, 3], [1.2, 2], [6, 2], [12, 2], [18, 2], [24, 2]];
const scm6_12 = [[0, 7], [0.5, 8], [0.7, 17], [0.95, 10], [1.5, 11], [1.85, 12], [2.3, 24], [2.6, 7], [3.2, 10], [3.65, 5], [4.8, 5], [5.2, 8], [5.6, 67], [6, 2], [6.7, 11], [7, 5], [7.9, 4], [8.8, 4], [9.7, 5], [10.2, 8], [10.4, 4], [10.95, 11], [11.3, 7], [11.75, 4], [12.2, 18], [12.6, 5], [13.1, 11], [13.6, 28], [13.9, 11], [14.4, 11], [14.9, 14], [15.2, 7], [15.55, 14], [15.8, 9], [16.2, 28], [16.6, 16], [17, 11], [17.4, 7], [17.65, 18], [17.9, 60], [18.3, 18], [18.6, 11], [18.9, 46], [19.3, 2], [19.6, 2], [19.95, 39], [20.3, 18], [20.6, 14], [21, 16], [21.3, 12], [21.6, 36], [22, 11], [22.3, 14], [22.8, 7], [23.2, 8], [23.7, 9], [24, 9]];
const scmD_12 = [[0, 17], [0.3, 7], [0.6, 10], [1, 7], [1.5, 9], [1.85, 5], [2.3, 7], [2.6, 4], [3.4, 3], [4.5, 2], [5.6, 2], [6.6, 3], [7.5, 4], [7.9, 7], [8.25, 23], [8.6, 7], [9, 7], [9.6, 18], [9.95, 11], [10.3, 17], [10.6, 9], [10.95, 16], [11.3, 15], [11.6, 12], [12, 30], [12.4, 25], [12.85, 4], [13.1, 1], [13.4, 18], [13.9, 15], [14.4, 21], [15, 32], [15.7, 30], [16, 7], [16.35, 14], [16.9, 16], [17.4, 28], [17.7, 23], [18, 16], [18.4, 23], [18.8, 28], [19.3, 25], [19.7, 22], [20.2, 9], [20.6, 18], [21.1, 15], [21.6, 28], [22.1, 30], [22.5, 36], [22.9, 21], [23.3, 38], [23.8, 30], [24, 28]];

const nud6_13 = [[0, 2], [0.9, 2.5], [1.8, 3], [2.7, 7], [4.05, 11], [5.4, 10], [6, 8], [6.45, 11], [7, 8], [7.9, 8], [8.6, 12], [9.5, 12], [10.4, 14], [11.3, 12], [12.2, 9], [13.1, 8], [14, 7], [14.9, 4], [15.8, 3], [17, 3], [18.1, 2], [24, 1]];
const nudD_13 = [[0, 4], [0.9, 5], [1.8, 7], [2.7, 10], [3.6, 12], [4.5, 14], [5.4, 12], [6.3, 12], [7.2, 10], [8.1, 11], [9, 14], [10, 11], [10.9, 9], [11.75, 12], [12.65, 9], [13.6, 11], [14.1, 23], [14.7, 21], [15.4, 11], [15.8, 7], [16.5, 9], [17.4, 8], [18.3, 7], [19.2, 4], [20.3, 4], [21.7, 3], [23.05, 2], [24, 2]];
const scm6_13 = [[0, 9], [0.45, 11], [0.9, 15], [1.35, 10], [1.8, 16], [2.25, 17], [2.7, 21], [3.05, 16], [3.6, 24], [4.05, 15], [4.5, 16], [5, 19], [5.4, 16], [6.1, 16], [6.55, 14], [7, 24], [7.45, 15], [8, 17], [8.6, 20], [9.15, 23], [9.5, 30], [9.95, 39], [10.4, 25], [10.75, 17], [11.2, 37], [11.6, 54], [12, 28], [12.3, 7], [12.9, 5], [13.3, 8], [13.9, 7], [14.5, 7], [15.4, 5], [16.3, 5], [17.2, 4], [18.1, 4], [19, 4], [19.9, 3], [21.2, 3], [22.1, 2], [23.1, 3], [24, 1]];
const scmD_13 = [[0, 27], [0.35, 23], [0.55, 16], [0.9, 23], [1.25, 15], [1.6, 30], [1.9, 27], [2.2, 9], [2.5, 11], [2.8, 30], [3.15, 31], [3.55, 56], [3.95, 42], [4.3, 58], [4.6, 56], [5, 56], [5.3, 66], [5.7, 11], [6, 37], [6.3, 14], [6.65, 35], [7, 11], [7.3, 35], [7.7, 28], [8, 23], [8.3, 78], [8.7, 49], [9.05, 42], [9.3, 52], [9.7, 37], [10.1, 37], [10.6, 48], [10.95, 35], [11.6, 70], [12, 47], [12.3, 28], [12.65, 23], [13.2, 37], [13.7, 49], [14, 43], [14.6, 57], [15, 41], [15.6, 11], [16, 31], [16.4, 25], [16.7, 30], [17.05, 11], [17.6, 57], [17.95, 11], [18.3, 34], [18.65, 9], [19.3, 48], [19.65, 9], [20, 11], [20.45, 9], [20.8, 14], [21.1, 11], [21.5, 17], [21.9, 14], [22.4, 7], [22.7, 5], [23.2, 12], [23.4, 9], [23.8, 18], [24, 15]];

const nud6_14 = [[0, 0.5], [10, 0.5], [20, 1], [20.1, 1.5], [21, 3], [21.5, 2], [22.35, 7], [22.8, 7], [23.5, 5], [24, 3]];
const nudD_14 = [[0, 0.5], [10, 0.5], [21, 0.5], [21.4, 3.5], [22.3, 3], [23.2, 3.5], [24, 2]];
const scm6_14 = [[0, 1.5], [1.2, 3], [2.1, 4], [2.9, 2], [4.8, 1.5], [7.9, 2], [9.5, 3], [9.7, 5], [10, 2], [10.6, 3], [12, 4], [12.4, 2], [13.8, 3], [14.7, 1.5], [16.9, 1], [18.5, 1], [19, 8], [19.3, 1], [21, 0.5], [24, 0.5]];
const scmD_14 = [[0, 15], [0.25, 18], [0.6, 11], [0.95, 18], [1.4, 17], [2.1, 20], [2.4, 15], [3, 20], [3.3, 17], [4, 21], [4.65, 17], [5, 17], [5.35, 10], [6.1, 9], [7, 8], [7.5, 10], [7.9, 9], [8.25, 7], [8.6, 11], [9.3, 10], [10.2, 9], [10.6, 8], [11, 14], [11.3, 9], [11.6, 10], [12, 8], [12.65, 5], [13.6, 7], [14.35, 8], [15.1, 7], [16, 5], [16.6, 4], [16.9, 3], [18.1, 2], [19.2, 1], [20.5, 1], [22.1, 2], [24, 1.5]];

const nud6_15 = [[0, 3], [0.5, 6], [1.05, 5], [1.6, 3], [2.07, 2], [3, 7], [3.65, 9], [4.55, 14], [4.9, 12], [5.45, 15], [6, 18], [6.45, 8], [7.7, 8], [8.35, 4], [8.9, 5], [9.5, 4], [10.85, 3], [12, 1.5], [13.3, 1.5], [14.4, 2], [14.9, 3], [15.35, 9], [15.9, 11], [16.45, 18], [16.9, 21], [17.35, 25], [17.9, 28], [18.4, 36], [19.2, 31], [19.85, 30], [20.3, 32], [20.9, 42], [21.4, 152], [21.85, 45], [22.4, 39], [23.3, 42], [23.65, 42], [24, 41]];
const nudD_15 = [[0, 5], [0.5, 4], [1.4, 4], [2.07, 1], [2.75, 5], [3.65, 3], [4.55, 5], [5, 3], [5.9, 4], [7.7, 4], [8.15, 1], [12.6, 1], [15.8, 1], [16.45, 4], [17.1, 9], [17.6, 10], [18.3, 11], [18.9, 12], [19.4, 16], [19.85, 12], [20.4, 37], [21, 17], [21.4, 17], [21.95, 23], [22.4, 17], [23, 18], [23.55, 23], [24, 49]];
const scm6_15 = [[0, 0.3], [12, 0.3], [22, 0.5], [24, 1.5]];
const scmD_15 = [[0, 0.3], [12, 0.3], [24, 0.3]];

const obsAll = [obs09, obs10, obs11, obs12, obs13, obs14, obs15];
const nud6All = [nud6_09, nud6_10, nud6_11, nud6_12, nud6_13, nud6_14, nud6_15];
const nudDAll = [nudD_09, nudD_10, nudD_11, nudD_12, nudD_13, nudD_14, nudD_15];
const scm6All = [scm6_09, scm6_10, scm6_11, scm6_12, scm6_13, scm6_14, scm6_15];
const scmDAll = [scmD_09, scmD_10, scmD_11, scmD_12, scmD_13, scmD_14, scmD_15];

// ---- layout / style ----
const gridPos = [[120, 19], [596, 19], [1073, 19], [1549, 19], [120, 408], [596, 408], [1073, 408]];
const boxPos = [[251, 30], [723, 31], [1203, 30], [1683, 31], [246, 411], [723, 412], [1203, 412]];
const PW = 355;
const PH = 284;
const black = '#000';
const font = '"Liberation Sans", Arial, sans-serif';
const colors = { 'Nudging_-6': '#ff8c00', 'Nudging_D': '#006400', 'SCM_-6': '#0000ff', 'SCM_D': '#ff0000' };

const obsPoints = (rows) => rows.flatMap((r) => r.slice(1).map((v) => [r[0], v]));

const axisLine = { onZero: false, lineStyle: { color: black, width: 3 } };
const axisTick = { length: 10, lineStyle: { color: black, width: 3 } };
const minor = (n) => ({ show: true, splitNumber: n, length: 5, lineStyle: { color: black, width: 2 } });
const tickText = { fontSize: 21, color: black, fontFamily: font };

const grids = [];
const xAxes = [];
const yAxes = [];
const series = [];

days.forEach((day, i) => {
  grids.push({ left: gridPos[i][0], top: gridPos[i][1], width: PW, height: PH, containLabel: false, outerBoundsMode: 'none' });

  const xBase = {
    gridIndex: i, type: 'value', min: 0, max: 24, interval: 4,
    axisLine, axisTick, minorTick: minor(4), splitLine: { show: false }, minorSplitLine: { show: false },
  };
  xAxes.push({
    ...xBase, position: 'bottom',
    axisLabel: { ...tickText, margin: 22 },
    name: hourNames[i], nameLocation: 'middle', nameGap: 64,
    nameTextStyle: { fontSize: 28, color: black, fontFamily: font },
  });
  xAxes.push({ ...xBase, position: 'top', axisLabel: { show: false } });

  const yBase = {
    gridIndex: i, type: 'value', min: 0, max: 200, interval: 30,
    axisLine, axisTick, minorTick: minor(3), splitLine: { show: false }, minorSplitLine: { show: false },
  };
  const left = { ...yBase, position: 'left', axisLabel: { ...tickText, margin: 20, showMaxLabel: false } };
  if (i % 4 === 0) {
    left.name = yTitle;
    left.nameLocation = 'middle';
    left.nameGap = 68;
    left.nameRotate = 90;
    left.nameTextStyle = { fontSize: 28, color: black, fontFamily: font };
  }
  yAxes.push(left);
  yAxes.push({ ...yBase, position: 'right', axisLabel: { show: false } });

  const ax = { xAxisIndex: 2 * i, yAxisIndex: 2 * i };
  series.push({
    ...ax, type: 'scatter', name: 'OBS', data: obsPoints(obsAll[i]),
    symbolSize: 4.5, itemStyle: { color: black, opacity: 1 }, silent: true,
  });
  // drawing order: green, orange, red, blue
  [['Nudging_D', nudDAll[i]], ['Nudging_-6', nud6All[i]], ['SCM_D', scmDAll[i]], ['SCM_-6', scm6All[i]]]
    .forEach(([name, data]) => {
      series.push({
        ...ax, type: 'line', name, data, symbol: 'none', silent: true,
        lineStyle: { color: colors[name], width: 4.5, join: 'round' },
        itemStyle: { color: colors[name] },
      });
    });
});

const graphic = days.map((day, i) => ({
  type: 'group', x: boxPos[i][0], y: boxPos[i][1], silent: true,
  children: [
    { type: 'rect', shape: { x: 0, y: 0, width: 215, height: 71 }, style: { fill: 'none', stroke: black, lineWidth: 2 } },
    { type: 'text', x: 107, y: 38, style: { text: day, fontSize: 38, fontFamily: 'Lato', fill: black, align: 'center', verticalAlign: 'middle' } },
  ],
}));

const legendText = { fontSize: 44, fontFamily: font, color: black, lineHeight: 44 };

const option = {
  animation: false,
  backgroundColor: '#fff',
  grid: grids,
  xAxis: xAxes,
  yAxis: yAxes,
  series,
  graphic,
  legend: [
    {
      data: ['OBS'], orient: 'vertical', left: 1545, top: 436, icon: 'circle',
      itemWidth: 74, itemHeight: 16, textStyle: legendText, selectedMode: false,
    },
    {
      data: lineNames, orient: 'vertical', left: 1540, top: 489, icon: 'roundRect',
      itemWidth: 74, itemHeight: 7, itemGap: 10.5, textStyle: legendText, selectedMode: false,
    },
  ],
};

const chart = echarts.init(document.getElementById('main'), null, { renderer: 'canvas' });
chart.setOption(option);
</script>
</body>
</html>
